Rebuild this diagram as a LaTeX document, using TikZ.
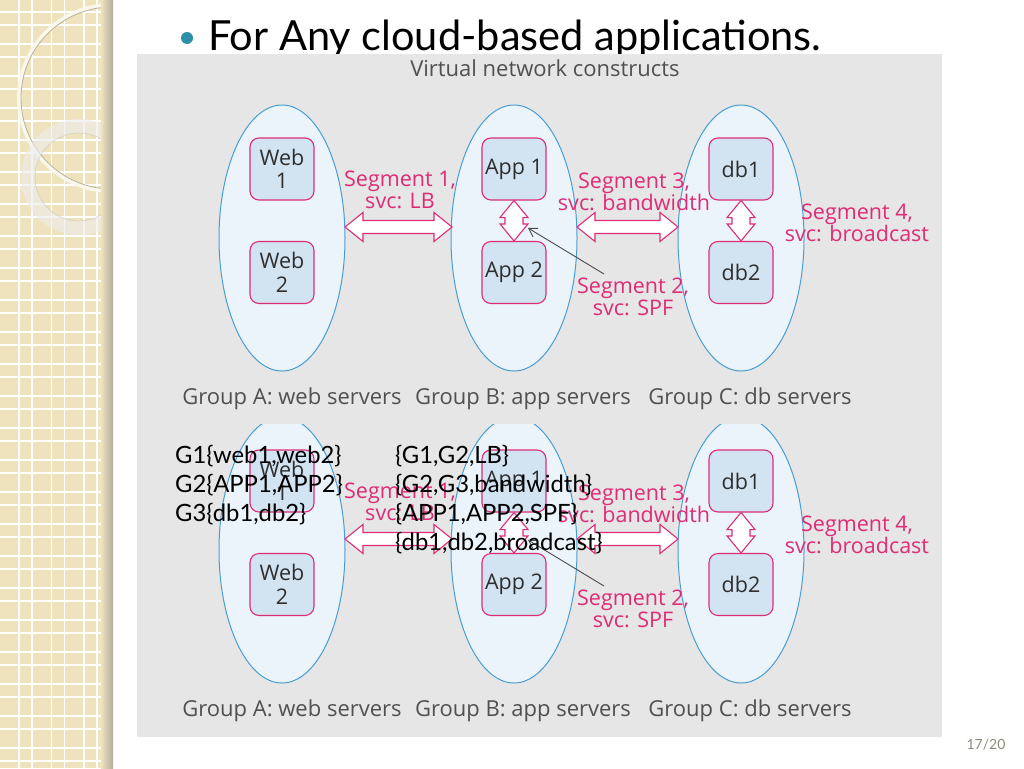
\documentclass[tikz,border=0pt]{standalone}
\usepackage{fontspec}
\setmainfont{Open Sans}
\newfontfamily\gill{Lato}
\usetikzlibrary{calc,shapes.geometric,arrows.meta}
\definecolor{panelc}{HTML}{E6E6E6}
\definecolor{ellfill}{HTML}{EBF4FA}
\definecolor{elldraw}{HTML}{4A9DD3}
\definecolor{boxfill}{HTML}{D2E4F1}
\definecolor{pinkc}{HTML}{DE2C77}
\definecolor{txtc}{HTML}{2E2E2E}
\definecolor{grpc}{HTML}{505050}
\definecolor{beige}{HTML}{EFE3BE}
\definecolor{tealc}{HTML}{2E8FA8}
\definecolor{pagec}{HTML}{8C8C7C}
\newcommand\hdarrow[2]{\draw[darr] (#1) -- ++(18,-14.5) -- ++(0,8) -- ($(#2)+(-18,-6.5)$) -- ++(0,-8) -- (#2) -- ++(-18,14.5) -- ++(0,-8) -- ($(#1)+(18,6.5)$) -- ++(0,8) -- cycle;}
\newcommand\vdarrow[2]{\draw[darr] (#1) -- ++(14,17) -- ++(-5,0) -- ($(#2)+(9,-17)$) -- ++(5,0) -- (#2) -- ++(-14,-17) -- ++(5,0) -- ($(#1)+(-9,17)$) -- ++(-5,0) -- cycle;}
\begin{document}
\begin{tikzpicture}[x=1pt,y=-1pt,
  grpell/.style={ellipse, draw=elldraw, fill=ellfill, line width=1pt, minimum width=126pt, minimum height=266pt, inner sep=0pt},
  srv/.style={draw=pinkc, fill=boxfill, line width=1.1pt, rounded corners=9pt, minimum width=64pt, minimum height=62pt, inner sep=0pt, align=center, text=txtc, font=\fontsize{21.5}{23.5}\selectfont},
  darr/.style={draw=pinkc, fill=white, line width=1.1pt, line join=miter},
  seg/.style={text=pinkc, align=center, inner sep=0pt, font=\fontsize{21.5}{22.5}\selectfont},
  grplab/.style={text=grpc, anchor=base, inner sep=0pt, font=\fontsize{22}{24}\selectfont},
  ptr/.style={draw=black!70, line width=0.9pt, -{Straight Barb[length=8pt,width=10pt]}},
  over/.style={anchor=base west, inner sep=0pt, font=\gill\fontsize{23.8}{26}\selectfont}]
\useasboundingbox (0,0) rectangle (1024,768);
\fill[white] (0,0) rectangle (1024,768);
% decorative strip
\begin{scope}
  \clip (0,0) rectangle (113,768);
  \fill[beige] (0,0) rectangle (113,768);
  \foreach \k in {0,...,23} {
    \draw[white, line width=1.6pt] (0,{12+32*\k}) -- (113,{12+32*\k});
    \draw[white, line width=1.6pt] (0,{25+32*\k}) -- (113,{25+32*\k});
  }
  \foreach \k in {0,...,3} {
    \draw[white, line width=1.6pt] ({19+32.5*\k},0) -- ({19+32.5*\k},768);
    \draw[white, line width=1.6pt] ({32+32.5*\k},0) -- ({32+32.5*\k},768);
  }
  \draw[line width=4pt, color=white!70!beige] (112,98) circle[radius=93pt];
  \draw[line width=0.8pt, color=beige!70!black!80] (112,98) circle[radius=91pt];
  \draw[line width=14pt, color=white!85!gray, opacity=0.6] (79,177) circle[radius=51pt];
  \draw[line width=0.6pt, color=gray!50, opacity=0.6] (79,177) circle[radius=44pt];
  \shade[left color=beige, right color=beige!60!black!70] (101,0) rectangle (113,768);
\end{scope}
% bullet and title
\fill[tealc] (187,38) circle[radius=6pt];
\node[anchor=base west, inner sep=0pt, font=\gill\fontsize{41.5}{44}\selectfont] (title) at (208,50) {For Any cloud-based applications.};
% panel
\fill[panelc] (137,54) rectangle (942,737);
\node[text=grpc, inner sep=0pt, font=\fontsize{22}{24}\selectfont] (vnc) at (545,68) {Virtual network constructs};
% two copies of the figure
\foreach \k/\dy/\cy in {a/0/54, b/312/424} {
  \begin{scope}
    \clip (137,\cy) rectangle (942,737);
    \begin{scope}[shift={(0,\dy)}]
      \node[grpell] (gA\k) at (282,238) {};
      \node[grpell] (gB\k) at (514,238) {};
      \node[grpell] (gC\k) at (741,238) {};
      \node[srv] (web1\k) at (282,169) {Web\\1};
      \node[srv] (web2\k) at (282,272.5) {Web\\2};
      \node[srv] (app1\k) at (514,169) {App 1};
      \node[srv] (app2\k) at (514,272.5) {App 2};
      \node[srv] (db1\k) at (741,169) {db1};
      \node[srv] (db2\k) at (741,272.5) {db2};
      \coordinate (s1a\k) at (345,227);
      \coordinate (s1b\k) at (452,227);
      \coordinate (s3a\k) at (577,227);
      \coordinate (s3b\k) at (678,227);
      \hdarrow{s1a\k}{s1b\k}
      \hdarrow{s3a\k}{s3b\k}
      \vdarrow{app1\k.south}{app2\k.north}
      \vdarrow{db1\k.south}{db2\k.north}
      \node[seg] (seg1\k) at (400,190) {Segment 1,\\svc: LB};
      \node[seg] (seg3\k) at (634,192) {Segment 3,\\svc: bandwidth};
      \node[seg] (seg4\k) at (857,223) {Segment 4,\\svc: broadcast};
      \node[seg] (seg2\k) at (633,297) {Segment 2,\\svc: SPF};
      \coordinate (p\k) at (604,274);
      \coordinate (s2tip\k) at (528,228);
      \draw[ptr] (p\k) -- (s2tip\k);
      \node[grplab] (lA\k) at (292,404) {Group A: web servers};
      \node[grplab] (lB\k) at (523,404) {Group B: app servers};
      \node[grplab] (lC\k) at (750,404) {Group C: db servers};
    \end{scope}
  \end{scope}
}
% overlay text
\node[over] (o1) at (175,463) {G1\{web1,web2\}};
\node[over] (o2) at (175,492) {G2\{APP1,APP2\}};
\node[over] (o3) at (175,521) {G3\{db1,db2\}};
\node[over] (o4) at (395,463) {\{G1,G2,LB\}};
\node[over] (o5) at (395,492) {\{G2,G3,bandwidth\}};
\node[over] (o6) at (395,521) {\{APP1,APP2,SPF\}};
\node[over] (o7) at (395,550) {\{db1,db2,broadcast\}};
% page number
\node[text=pagec, inner sep=0pt, font=\gill\fontsize{14}{16}\selectfont] (pg) at (986,745) {17/20};
\end{tikzpicture}
\end{document}
